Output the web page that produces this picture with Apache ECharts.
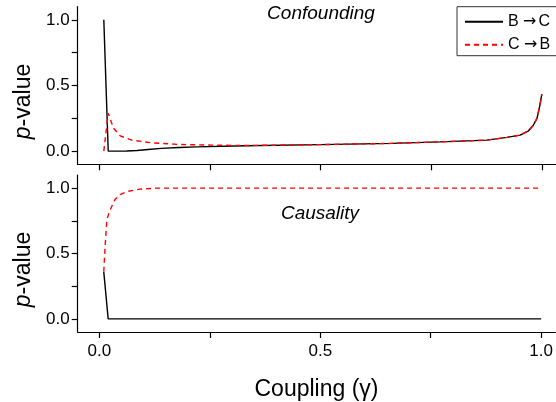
<!DOCTYPE html>
<html>
<head>
<meta charset="utf-8">
<script src="https://cdn.jsdelivr.net/npm/echarts@6/dist/echarts.min.js"></script>
<style>html,body{margin:0;padding:0;background:#fff}#c{width:556px;height:402px}</style>
</head>
<body>
<div id="c"></div>
<script>
// ---- data ----
const seriesNames = ['B \u2192 C', 'C \u2192 B'];

// Confounding panel
const confGammaBC = [0.01, 0.02, 0.04, 0.062, 0.085, 0.11, 0.14, 0.18, 0.22, 0.33, 0.5, 0.66, 0.77, 0.876, 0.921, 0.951, 0.97, 0.981, 0.989, 0.995, 1.0];
const confPBC     = [1.0, 0.0, 0.0, 0.001, 0.005, 0.013, 0.021, 0.028, 0.033, 0.041, 0.05, 0.059, 0.071, 0.084, 0.105, 0.122, 0.155, 0.199, 0.25, 0.339, 0.434];
const confGammaCB = [0.01, 0.02, 0.032, 0.047, 0.073, 0.118, 0.179, 0.254, 0.33, 0.5, 0.66, 0.77, 0.876, 0.921, 0.951, 0.97, 0.981, 0.989, 0.995, 1.0];
const confPCB     = [0.0, 0.288, 0.174, 0.117, 0.084, 0.064, 0.051, 0.046, 0.043, 0.05, 0.059, 0.071, 0.084, 0.105, 0.122, 0.155, 0.199, 0.25, 0.339, 0.434];

// Causality panel
const causGammaBC = [0.01, 0.02, 1.0];
const causPBC     = [0.36, 0.0, 0.0];
const causGammaCB = [0.01, 0.013, 0.017, 0.024, 0.035, 0.047, 0.062, 0.092, 0.13, 1.0];
const causPCB     = [0.36, 0.55, 0.76, 0.83, 0.91, 0.95, 0.974, 0.992, 1.0, 1.0];

// axis ticks / labels
const yTickValues  = [0, 0.25, 0.5, 0.75, 1.0];
const yLabelValues = [0, 0.5, 1.0];
const xTickValues  = [0, 0.25, 0.5, 0.75, 1.0];
const xLabelValues = [0, 0.5, 1.0];
const panelLabels  = ['Confounding', 'Causality'];
const xTitle = 'Coupling (\u03b3)';

// ---- chart ----
const FONT = '"Liberation Sans", Arial, sans-serif';
const pairs = (xs, ys) => xs.map((x, i) => [x, ys[i]]);
const chart = echarts.init(document.getElementById('c'), null, {renderer: 'canvas'});

const axisLineStyle = {show: true, onZero: false, lineStyle: {color: '#000', width: 1.2}};

function makeX(idx, showLabels) {
  return {
    type: 'value', gridIndex: idx, min: -0.049, max: 1.032,
    axisLine: axisLineStyle,
    axisTick: {show: true, customValues: xTickValues, length: 6, lineStyle: {color: '#000', width: 1.2}},
    axisLabel: {show: showLabels, customValues: xLabelValues, formatter: v => v.toFixed(1),
      fontSize: 17, fontFamily: FONT, color: '#000', margin: 11},
    splitLine: {show: false},
    name: showLabels ? xTitle : '',
    nameLocation: 'middle', nameGap: 46,
    nameTextStyle: {fontSize: 23, fontFamily: FONT, color: '#000'}
  };
}
function makeY(idx) {
  return {
    type: 'value', gridIndex: idx, min: -0.1, max: 1.1,
    axisLine: axisLineStyle,
    axisTick: {show: true, customValues: yTickValues, length: 6, lineStyle: {color: '#000', width: 1.2}},
    axisLabel: {show: true, customValues: yLabelValues, formatter: v => v.toFixed(1),
      fontSize: 17, fontFamily: FONT, color: '#000', margin: 8},
    splitLine: {show: false},
    name: '{i|p}-value',
    nameLocation: 'middle', nameGap: 42, nameRotate: 90,
    nameTextStyle: {fontSize: 23, fontFamily: FONT, color: '#000', padding: [0, 32, 0, 0],
      rich: {i: {fontStyle: 'italic', fontSize: 23, fontFamily: FONT, color: '#000'}}}
  };
}
function makeSeries(name, xi, data, color, dashed) {
  return {
    name: name, type: 'line', xAxisIndex: xi, yAxisIndex: xi,
    data: data, symbol: 'none', showSymbol: false, smooth: false,
    lineStyle: {color: color, width: 1.4, type: dashed ? [5, 4] : 'solid'},
    itemStyle: {color: color}, z: dashed ? 3 : 2
  };
}

chart.setOption({
  animation: false,
  backgroundColor: '#fff',
  grid: [
    {left: 77.7, top: 6.7, right: 0, height: 157.6},
    {left: 77.7, top: 175, right: 0, height: 157.3}
  ],
  xAxis: [makeX(0, false), makeX(1, true)],
  yAxis: [makeY(0), makeY(1)],
  legend: {
    orient: 'vertical', left: 457, top: 6.7,
    padding: [7, 14, 3, 7], itemWidth: 38, itemHeight: 14, itemGap: 7,
    borderColor: '#333', borderWidth: 1, backgroundColor: '#fff',
    itemStyle: {opacity: 0},
    formatter: name => name.replace(' \u2192 ', ' {a|\u2192}'),
    textStyle: {fontSize: 16, fontFamily: FONT, color: '#000', lineHeight: 14,
      rich: {a: {fontSize: 16, fontFamily: '"DejaVu Sans", sans-serif', color: '#000', padding: [0, 2, 0, 0]}}},
    data: seriesNames
  },
  graphic: [
    {type: 'text', x: 321, y: 14, style: {text: panelLabels[0], font: 'italic 19px ' + FONT, fill: '#000', textAlign: 'center', textVerticalAlign: 'middle'}},
    {type: 'text', x: 320, y: 214, style: {text: panelLabels[1], font: 'italic 19px ' + FONT, fill: '#000', textAlign: 'center', textVerticalAlign: 'middle'}}
  ],
  series: [
    makeSeries(seriesNames[0], 0, pairs(confGammaBC, confPBC), '#000', false),
    makeSeries(seriesNames[1], 0, pairs(confGammaCB, confPCB), '#ff0000', true),
    makeSeries(seriesNames[0], 1, pairs(causGammaBC, causPBC), '#000', false),
    makeSeries(seriesNames[1], 1, pairs(causGammaCB, causPCB), '#ff0000', true)
  ]
});
</script>
</body>
</html>
